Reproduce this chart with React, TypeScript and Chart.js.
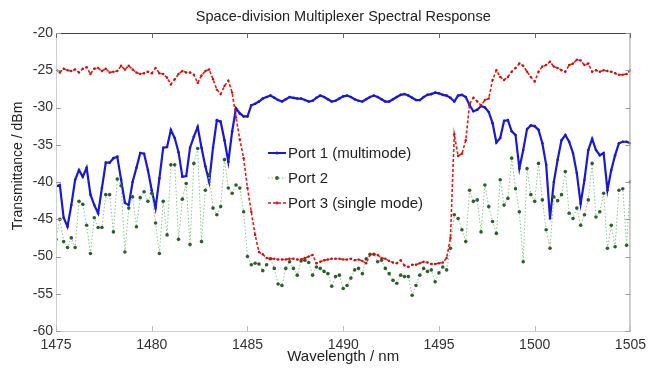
import React, { useEffect, useRef } from 'react';
import { Chart, registerables } from 'chart.js';

Chart.register(...registerables);

const TITLE = 'Space-division Multiplexer Spectral Response';
const X_TITLE = 'Wavelength / nm';
const Y_TITLE = 'Transmittance / dBm';
const SERIES_NAMES = ['Port 1 (multimode)', 'Port 2', 'Port 3 (single mode)'];

const WL_START = 1475;
const WL_END = 1505;
const WL_STEP = 0.2;
const X_TICKS = [1475, 1480, 1485, 1490, 1495, 1500, 1505];
const Y_TICKS = [-20, -25, -30, -35, -40, -45, -50, -55, -60];

const PORT1 = [
  -40.6, -40.4, -44.8, -46.0, -43.1, -39.7, -38.4, -39.3, -38.1, -41.7,
  -43.1, -44.2, -40.8, -37.4, -37.4, -36.8, -36.6, -39.7, -42.8, -43.1,
  -40.0, -38.1, -36.1, -36.2, -38.4, -41.1, -43.5, -39.5, -35.4, -35.3,
  -33.0, -34.1, -36.0, -39.3, -39.2, -35.4, -33.9, -32.6, -35.4, -37.9,
  -40.0, -35.4, -31.7, -31.9, -34.4, -37.3, -33.2, -30.1, -30.8, -31.2,
  -31.2, -29.7, -29.5, -29.2, -28.8, -28.6, -28.4, -28.7, -29.0, -29.2,
  -28.9, -28.6, -28.7, -28.8, -28.8, -29.0, -29.2, -29.1, -28.7, -28.4,
  -28.6, -28.9, -29.2, -29.1, -28.8, -28.5, -28.4, -28.6, -28.9, -29.1,
  -29.2, -28.9, -28.6, -28.4, -28.6, -28.9, -29.2, -29.2, -28.9, -28.6,
  -28.3, -28.2, -28.4, -28.7, -29.0, -29.0, -28.6, -28.3, -28.2, -28.0,
  -28.1, -28.3, -28.4, -28.7, -29.2, -28.4, -28.3, -28.6, -29.7, -30.5,
  -30.3, -29.8, -30.0, -30.6, -32.1, -34.7, -34.1, -31.8, -31.7, -33.2,
  -33.7, -38.2, -35.7, -32.9, -32.4, -32.5, -33.0, -34.8, -37.7, -44.9,
  -40.0, -37.0, -34.4, -33.7, -34.6, -36.1, -38.8, -42.9, -39.7, -35.7,
  -34.2, -35.7, -36.4, -36.1, -41.1, -38.4, -36.4, -34.8, -34.6, -34.6,
  -34.8,
];

const PORT2 = [
  -47.7, -45.0, -48.0, -48.8, -47.5, -48.8, -42.6, -43.0, -45.8, -49.6,
  -44.8, -46.1, -46.1, -41.7, -41.7, -46.7, -39.6, -40.5, -49.4, -43.5,
  -42.0, -46.0, -42.1, -41.3, -42.6, -41.5, -45.5, -49.6, -42.6, -47.1,
  -37.7, -37.7, -47.7, -42.3, -40.2, -48.4, -37.5, -35.5, -48.0, -41.1,
  -39.0, -43.5, -44.4, -43.3, -37.0, -40.8, -41.5, -40.4, -40.8, -44.0,
  -50.0, -51.1, -50.9, -51.0, -51.9, -51.1, -50.3, -51.6, -53.7, -53.9,
  -51.6, -50.7, -51.6, -52.5, -50.6, -50.5, -50.8, -52.5, -51.4, -51.6,
  -52.0, -52.3, -54.0, -52.7, -52.5, -54.3, -53.9, -52.9, -51.8, -51.6,
  -52.3, -50.3, -49.7, -49.7, -50.7, -50.5, -51.6, -52.3, -53.2, -53.6,
  -52.5, -52.7, -52.7, -55.2, -53.9, -52.5, -51.6, -52.0, -51.8, -53.4,
  -52.2, -51.4, -51.8, -48.9, -44.4, -44.9, -46.4, -48.0, -41.1, -42.6,
  -42.4, -46.7, -40.4, -43.3, -45.3, -46.9, -39.7, -43.1, -42.2, -36.8,
  -40.9, -44.0, -50.7, -38.2, -41.7, -42.6, -37.5, -42.4, -46.4, -48.9,
  -42.0, -42.5, -41.7, -38.6, -44.2, -44.9, -43.5, -45.8, -44.4, -42.4,
  -37.5, -44.7, -44.0, -41.5, -48.9, -45.8, -48.7, -41.1, -40.9, -48.5,
  -40.0,
];

const PORT3 = [
  -24.9, -25.3, -24.8, -25.0, -25.1, -24.9, -25.3, -24.8, -24.6, -25.5,
  -24.8, -24.7, -25.1, -24.8, -25.3, -25.2, -25.1, -24.4, -24.9, -24.4,
  -24.9, -25.3, -25.5, -25.4, -25.2, -25.4, -24.7, -25.4, -25.5, -26.0,
  -26.9, -26.2, -25.5, -25.1, -25.3, -25.3, -25.6, -26.7, -25.7, -25.1,
  -24.9, -26.2, -27.6, -28.2, -27.1, -26.4, -28.0, -31.3, -34.3, -36.8,
  -40.8, -44.0, -47.1, -49.4, -49.7, -50.2, -50.3, -50.3, -50.4, -50.4,
  -50.4, -50.3, -50.3, -50.4, -50.4, -50.2, -50.0, -49.8, -50.9, -50.7,
  -50.5, -50.4, -50.3, -50.3, -50.3, -50.4, -50.4, -50.3, -50.5, -50.4,
  -50.6, -50.9, -49.8, -49.7, -49.8, -50.2, -50.3, -50.6, -50.8, -50.9,
  -50.5, -51.2, -51.4, -51.1, -51.1, -50.9, -50.7, -50.8, -51.0, -51.0,
  -50.9, -50.8, -50.2, -47.5, -33.6, -36.5, -36.2, -34.4, -29.5, -28.7,
  -29.2, -29.7, -29.0, -28.8, -26.3, -25.0, -25.9, -26.3, -25.9, -25.2,
  -24.7, -24.1, -24.4, -25.2, -25.9, -26.5, -25.2, -24.5, -24.3, -23.85,
  -24.5, -24.7, -25.0, -25.2, -24.3, -24.1, -23.6, -23.7, -24.3, -24.1,
  -25.2, -25.0, -25.2, -25.0, -25.1, -25.2, -25.4, -25.6, -25.6, -25.5,
  -25.0,
];

const FONT = '"Liberation Sans", Arial, Helvetica, sans-serif';

const COLORS = {
  p1: '#1818d6',
  p2Line: '#86c886',
  p2Point: '#2e5e2e',
  p3: '#e31a1a',
};

function toPoints(values: number[]) {
  return values.map((v, i) => ({ x: WL_START + i * WL_STEP, y: v }));
}

const decorPlugin = {
  id: 'decor',
  afterDatasetsDraw(chart: any) {
    const { ctx, chartArea } = chart;
    const { left, right, top, bottom } = chartArea;
    const xs = chart.scales.x;
    const ys = chart.scales.y;
    ctx.save();
    // frame
    ctx.lineWidth = 1;
    ctx.strokeStyle = '#cfcfcf';
    ctx.beginPath();
    ctx.moveTo(left + 0.5, top);
    ctx.lineTo(left + 0.5, bottom + 0.5);
    ctx.lineTo(right, bottom + 0.5);
    ctx.stroke();
    ctx.strokeStyle = '#9a9a9a';
    ctx.beginPath();
    ctx.moveTo(right - 0.5, top);
    ctx.lineTo(right - 0.5, bottom);
    ctx.stroke();
    ctx.strokeStyle = '#444';
    ctx.beginPath();
    ctx.moveTo(left, top + 0.5);
    ctx.lineTo(right, top + 0.5);
    ctx.stroke();
    // inward ticks
    const TL = 5;
    X_TICKS.forEach((t) => {
      const px = Math.round(xs.getPixelForValue(t)) + 0.5;
      ctx.strokeStyle = '#666';
      ctx.beginPath();
      ctx.moveTo(px, top);
      ctx.lineTo(px, top + TL);
      ctx.stroke();
      ctx.strokeStyle = '#bbb';
      ctx.beginPath();
      ctx.moveTo(px, bottom);
      ctx.lineTo(px, bottom - TL);
      ctx.stroke();
    });
    Y_TICKS.forEach((t) => {
      const py = Math.round(ys.getPixelForValue(t)) + 0.5;
      ctx.strokeStyle = '#999';
      ctx.beginPath();
      ctx.moveTo(left, py);
      ctx.lineTo(left + TL, py);
      ctx.stroke();
      ctx.beginPath();
      ctx.moveTo(right, py);
      ctx.lineTo(right - TL, py);
      ctx.stroke();
    });

    // title
    ctx.fillStyle = '#222';
    ctx.textAlign = 'center';
    ctx.textBaseline = 'middle';
    ctx.font = `14.5px ${FONT}`;
    ctx.fillText(TITLE, (left + right) / 2, 17);
    // x title
    ctx.font = `15px ${FONT}`;
    ctx.fillText(X_TITLE, (left + right) / 2, 357);
    // y title
    ctx.save();
    ctx.font = `14px ${FONT}`;
    ctx.translate(18, 166);
    ctx.rotate(-Math.PI / 2);
    ctx.fillText(Y_TITLE, 0, 0);
    ctx.restore();

    // legend
    const lx0 = 268;
    const lx1 = 286;
    const lm = 277;
    const rows = [153, 178, 203];
    ctx.font = `15px ${FONT}`;
    ctx.textAlign = 'left';
    // port 1
    ctx.strokeStyle = COLORS.p1;
    ctx.lineWidth = 2;
    ctx.setLineDash([]);
    ctx.beginPath();
    ctx.moveTo(lx0, rows[0]);
    ctx.lineTo(lx1, rows[0]);
    ctx.stroke();
    ctx.fillStyle = COLORS.p1;
    ctx.beginPath();
    ctx.arc(lm, rows[0], 1.6, 0, Math.PI * 2);
    ctx.fill();
    // port 2
    ctx.strokeStyle = COLORS.p2Line;
    ctx.lineWidth = 1;
    ctx.setLineDash([1.5, 2]);
    ctx.beginPath();
    ctx.moveTo(lx0, rows[1]);
    ctx.lineTo(lx1, rows[1]);
    ctx.stroke();
    ctx.setLineDash([]);
    ctx.fillStyle = COLORS.p2Point;
    ctx.beginPath();
    ctx.arc(lm, rows[1], 1.9, 0, Math.PI * 2);
    ctx.fill();
    // port 3
    ctx.strokeStyle = COLORS.p3;
    ctx.lineWidth = 1.6;
    ctx.setLineDash([3, 2]);
    ctx.beginPath();
    ctx.moveTo(lx0, rows[2]);
    ctx.lineTo(lx1, rows[2]);
    ctx.stroke();
    ctx.setLineDash([]);
    ctx.fillStyle = COLORS.p3;
    ctx.beginPath();
    ctx.arc(lm, rows[2], 1.4, 0, Math.PI * 2);
    ctx.fill();

    ctx.fillStyle = '#222';
    ctx.textBaseline = 'middle';
    SERIES_NAMES.forEach((name, i) => {
      ctx.fillText(name, 288, rows[i] + 1);
    });
    ctx.restore();
  },
};

export default function App() {
  const canvasRef = useRef<HTMLCanvasElement | null>(null);

  useEffect(() => {
    const canvas = canvasRef.current;
    if (!canvas) return;
    const chart = new Chart(canvas, {
      type: 'line',
      data: {
        datasets: [
          {
            label: SERIES_NAMES[0],
            data: toPoints(PORT1),
            borderColor: COLORS.p1,
            backgroundColor: COLORS.p1,
            borderWidth: 2.2,
            pointRadius: 1.3,
            pointBorderWidth: 0,
            pointBackgroundColor: COLORS.p1,
            tension: 0,
            order: 3,
          },
          {
            label: SERIES_NAMES[1],
            data: toPoints(PORT2),
            borderColor: COLORS.p2Line,
            backgroundColor: COLORS.p2Point,
            borderWidth: 1,
            borderDash: [1.5, 2],
            pointRadius: 1.8,
            pointBorderWidth: 0,
            pointBackgroundColor: COLORS.p2Point,
            tension: 0,
            order: 2,
          },
          {
            label: SERIES_NAMES[2],
            data: toPoints(PORT3),
            borderColor: COLORS.p3,
            backgroundColor: COLORS.p3,
            borderWidth: 1.6,
            borderDash: [3, 2],
            pointRadius: 1.2,
            pointBorderWidth: 0,
            pointBackgroundColor: '#c81010',
            tension: 0,
            order: 1,
          },
        ],
      },
      options: {
        responsive: false,
        animation: false,
        devicePixelRatio: 1,
        layout: { padding: { top: 33, right: 19, left: 0, bottom: 0 } },
        plugins: {
          legend: { display: false },
          title: { display: false },
          tooltip: { enabled: false },
        },
        scales: {
          x: {
            type: 'linear',
            min: WL_START,
            max: WL_END,
            grid: { display: false, drawTicks: false },
            border: { display: false },
            afterFit: (s: any) => {
              s.height = 40;
            },
            afterBuildTicks: (s: any) => {
              s.ticks = X_TICKS.map((v) => ({ value: v }));
            },
            ticks: {
              autoSkip: false,
              maxRotation: 0,
              padding: 6,
              color: '#333',
              font: { family: FONT, size: 14 },
              callback: (v: any) => String(v),
            },
          },
          y: {
            type: 'linear',
            min: -60,
            max: -20,
            grid: { display: false, drawTicks: false },
            border: { display: false },
            afterFit: (s: any) => {
              s.width = 56;
            },
            afterBuildTicks: (s: any) => {
              s.ticks = Y_TICKS.map((v) => ({ value: v }));
            },
            ticks: {
              autoSkip: false,
              padding: 3,
              color: '#333',
              font: { family: FONT, size: 14 },
              callback: (v: any) => String(v),
            },
          },
        },
      },
      plugins: [decorPlugin],
    });
    return () => chart.destroy();
  }, []);

  return (
    <div style={{ position: 'absolute', left: 0, top: 0, width: 652, height: 371, background: '#fff' }}>
      <canvas ref={canvasRef} width={652} height={371} style={{ display: 'block' }} />
    </div>
  );
}
